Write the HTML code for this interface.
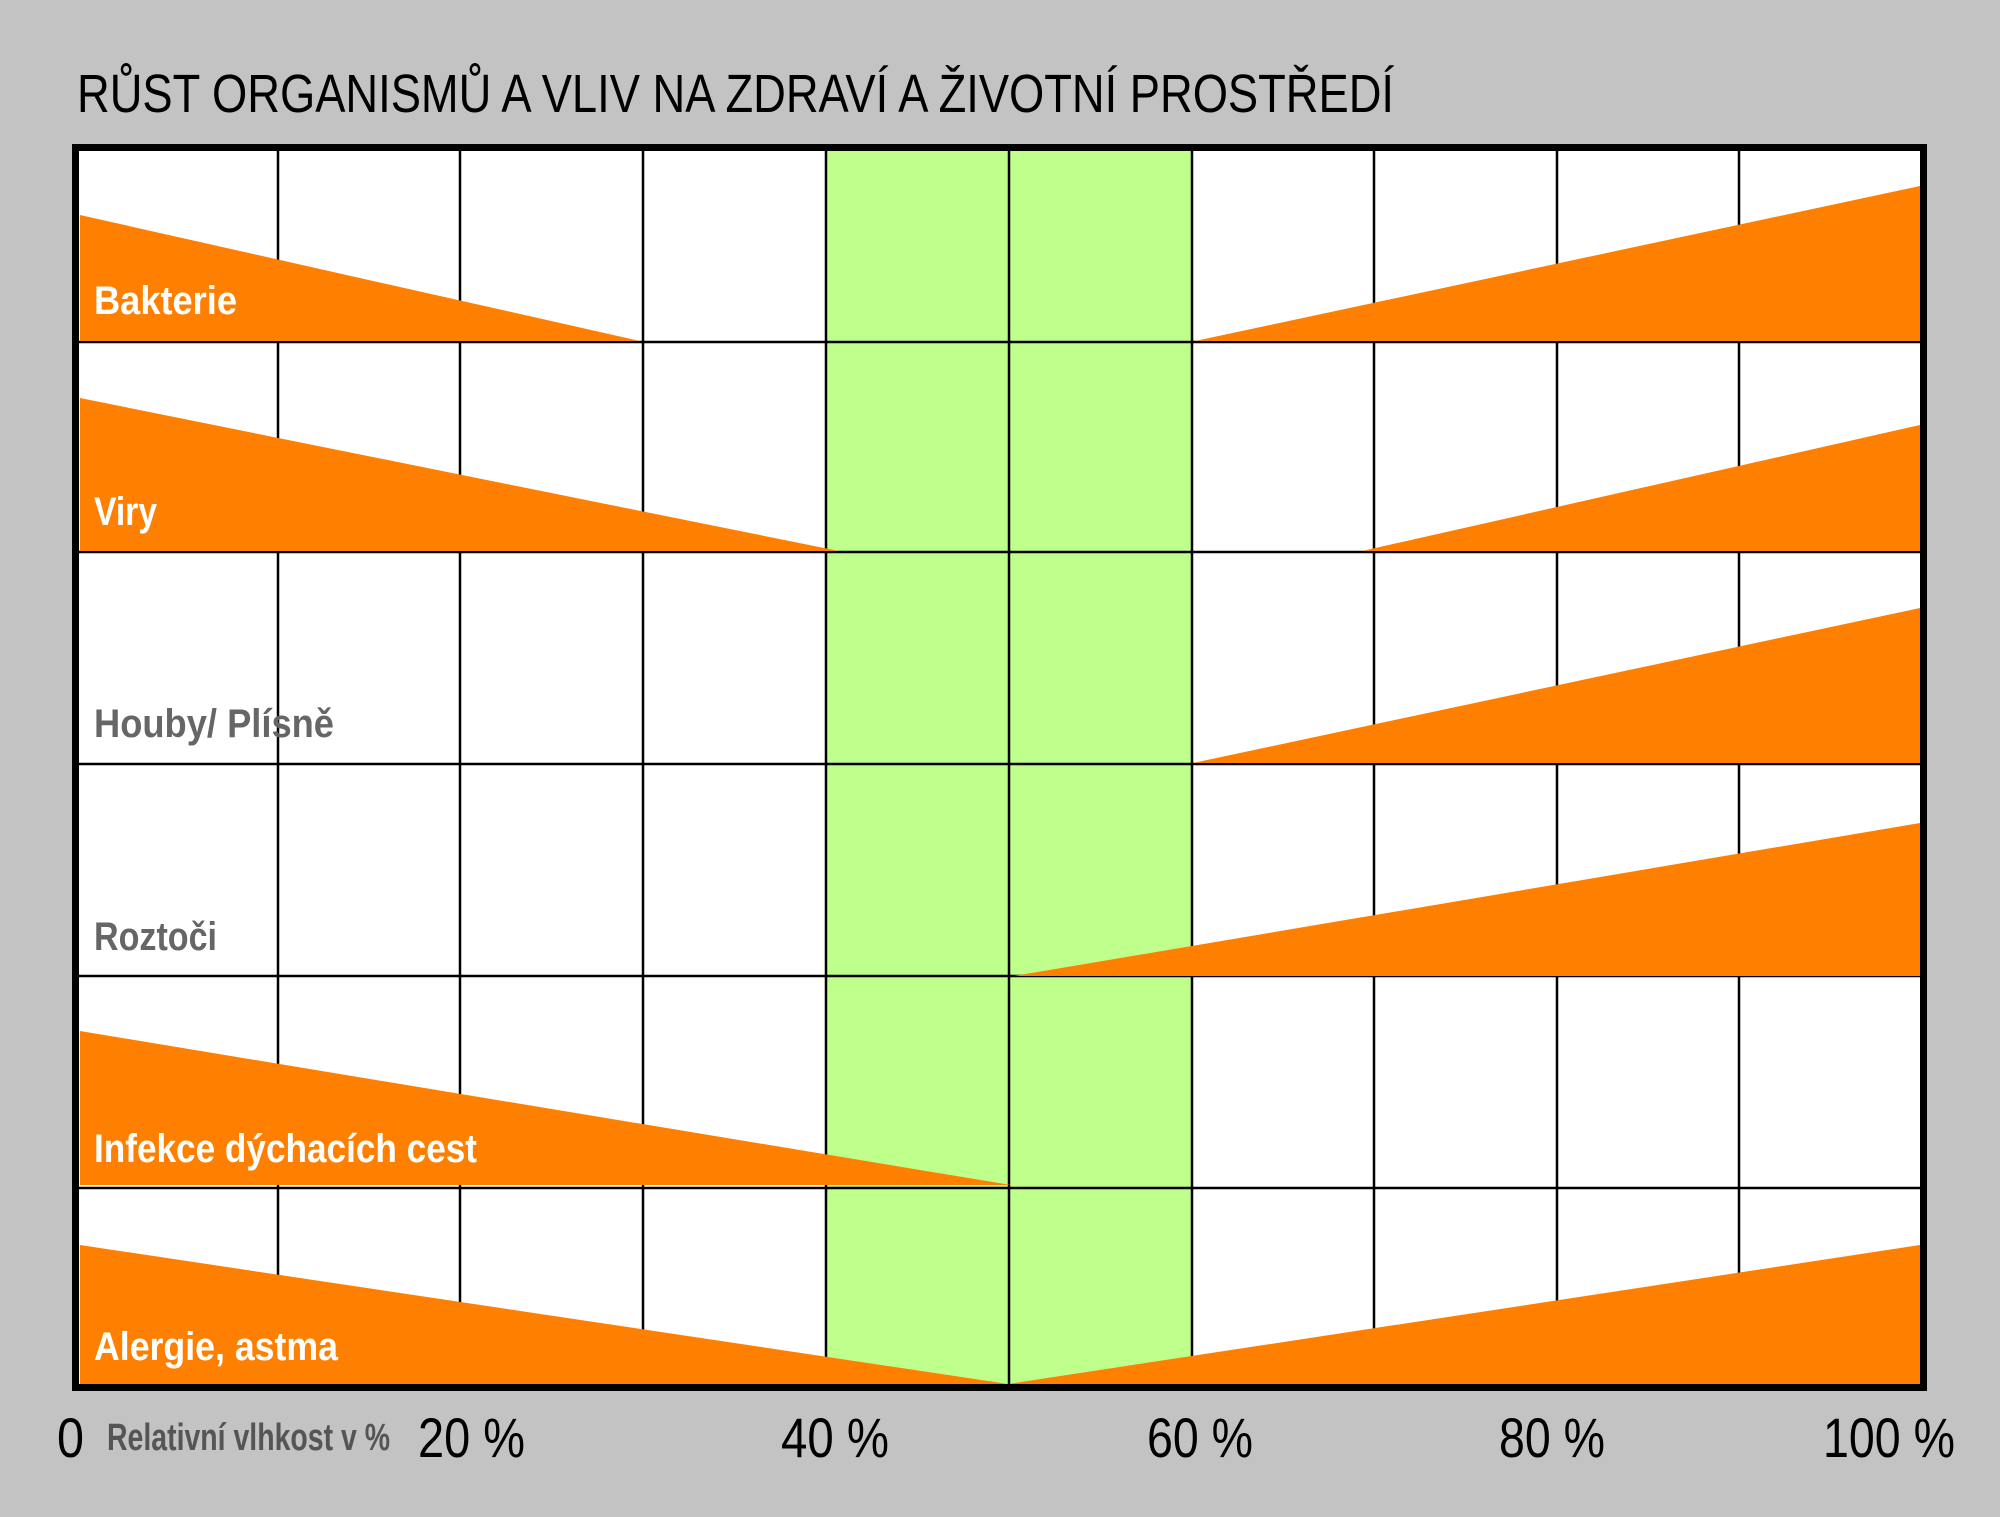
<!DOCTYPE html>
<html><head><meta charset="utf-8"><style>html,body{margin:0;padding:0;background:#c3c3c3}svg{display:block}</style></head>
<body>
<svg width="2000" height="1517" viewBox="0 0 2000 1517" xmlns="http://www.w3.org/2000/svg" font-family="'Liberation Sans Narrow','Liberation Sans',sans-serif">
<rect width="2000" height="1517" fill="#c3c3c3"/>
<text x="77" y="112" font-size="54" fill="#000" textLength="1317" lengthAdjust="spacingAndGlyphs">RŮST ORGANISMŮ A VLIV NA ZDRAVÍ A ŽIVOTNÍ PROSTŘEDÍ</text>
<rect x="76" y="148" width="1847" height="1240" fill="#fff"/>
<rect x="826" y="148" width="367" height="1240" fill="#bfff8c"/>
<g stroke="#000" stroke-width="2.5">
<line x1="278" y1="148" x2="278" y2="1388"/>
<line x1="460" y1="148" x2="460" y2="1388"/>
<line x1="643" y1="148" x2="643" y2="1388"/>
<line x1="826" y1="148" x2="826" y2="1388"/>
<line x1="1009" y1="148" x2="1009" y2="1388"/>
<line x1="1192" y1="148" x2="1192" y2="1388"/>
<line x1="1374" y1="148" x2="1374" y2="1388"/>
<line x1="1557" y1="148" x2="1557" y2="1388"/>
<line x1="1739" y1="148" x2="1739" y2="1388"/>
<line x1="76" y1="342" x2="1923" y2="342"/>
<line x1="76" y1="552" x2="1923" y2="552"/>
<line x1="76" y1="764" x2="1923" y2="764"/>
<line x1="76" y1="976" x2="1923" y2="976"/>
<line x1="76" y1="1188" x2="1923" y2="1188"/>
</g>
<g fill="#ff8000">
<polygon points="80,215 80,341 640,341"/>
<polygon points="1195,341 1920,186 1920,341"/>
<polygon points="80,398 80,551 839,551"/>
<polygon points="1362,551 1920,425 1920,551"/>
<polygon points="1193,763 1920,608 1920,763"/>
<polygon points="1014,976 1920,823 1920,976"/>
<polygon points="80,1031 80,1185 1011,1185"/>
<polygon points="80,1245 1008,1384 1920,1245 1920,1384 80,1384"/>
</g>
<rect x="75.5" y="147.5" width="1848" height="1240" fill="none" stroke="#000" stroke-width="7"/>
<g font-size="40" font-weight="bold">
<text x="94" y="314" fill="#fff" textLength="143" lengthAdjust="spacingAndGlyphs">Bakterie</text>
<text x="94" y="525" fill="#fff" textLength="63" lengthAdjust="spacingAndGlyphs">Viry</text>
<text x="94" y="737" fill="#666" textLength="240" lengthAdjust="spacingAndGlyphs">Houby/ Plísně</text>
<text x="94" y="950" fill="#666" textLength="123" lengthAdjust="spacingAndGlyphs">Roztoči</text>
<text x="94" y="1162" fill="#fff" textLength="383" lengthAdjust="spacingAndGlyphs">Infekce dýchacích cest</text>
<text x="94" y="1360" fill="#fff" textLength="244" lengthAdjust="spacingAndGlyphs">Alergie, astma</text>
</g>
<g font-size="56" fill="#000">
<text x="57" y="1457" textLength="27" lengthAdjust="spacingAndGlyphs">0</text>
<text x="418" y="1457" textLength="107" lengthAdjust="spacingAndGlyphs">20 %</text>
<text x="781" y="1457" textLength="108" lengthAdjust="spacingAndGlyphs">40 %</text>
<text x="1147" y="1457" textLength="106" lengthAdjust="spacingAndGlyphs">60 %</text>
<text x="1499" y="1457" textLength="106" lengthAdjust="spacingAndGlyphs">80 %</text>
<text x="1823" y="1457" textLength="132" lengthAdjust="spacingAndGlyphs">100 %</text>
</g>
<text x="107" y="1450" font-size="38" font-weight="bold" fill="#555" textLength="283" lengthAdjust="spacingAndGlyphs">Relativní vlhkost v %</text>
</svg>
</body></html>
